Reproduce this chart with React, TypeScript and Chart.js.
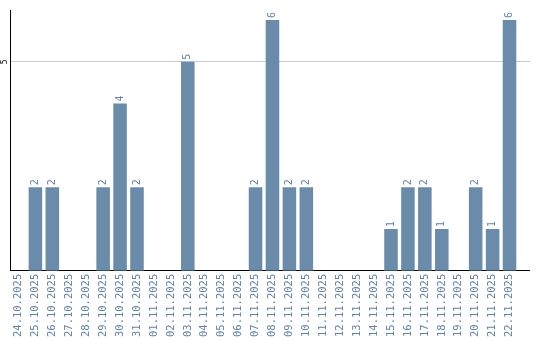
import React, { useEffect, useRef } from "react";
import { Chart, registerables } from "chart.js";

Chart.register(...registerables);

const categories = [
  "24.10.2025", "25.10.2025", "26.10.2025", "27.10.2025", "28.10.2025",
  "29.10.2025", "30.10.2025", "31.10.2025", "01.11.2025", "02.11.2025",
  "03.11.2025", "04.11.2025", "05.11.2025", "06.11.2025", "07.11.2025",
  "08.11.2025", "09.11.2025", "10.11.2025", "11.11.2025", "12.11.2025",
  "13.11.2025", "14.11.2025", "15.11.2025", "16.11.2025", "17.11.2025",
  "18.11.2025", "19.11.2025", "20.11.2025", "21.11.2025", "22.11.2025",
];
const counts = [0, 2, 2, 0, 0, 2, 4, 2, 0, 0, 5, 0, 0, 0, 2, 6, 2, 2, 0, 0, 0, 0, 1, 2, 2, 1, 0, 2, 1, 6];
const yTicks = [5];
const yMax = 6.24;

const BAR = "rgb(106,140,170)";
const LABEL = "rgb(98,130,165)";
const MONO = "'DejaVu Sans Mono', monospace";
const EXTEND = 12;

const align = (p: number) => Math.round(p - 0.5) + 0.5;

const labelPlugin = {
  id: "barLabels",
  afterDatasetsDraw(chart: any) {
    const ctx = chart.ctx;
    const meta = chart.getDatasetMeta(0);
    const ys = chart.scales.y;
    const xs = chart.scales.x;
    const area = chart.chartArea;
    ctx.save();
    // extend grid line and x axis line beyond the plot area
    ctx.lineWidth = 1;
    yTicks.forEach((t) => {
      const y = align(ys.getPixelForValue(t));
      ctx.strokeStyle = "#cccccc";
      ctx.beginPath();
      ctx.moveTo(area.right, y);
      ctx.lineTo(area.right + EXTEND, y);
      ctx.stroke();
    });
    const y0 = align(xs.top);
    ctx.strokeStyle = "#000";
    ctx.beginPath();
    ctx.moveTo(area.right - 1, y0);
    ctx.lineTo(area.right + EXTEND, y0);
    ctx.stroke();

    ctx.fillStyle = LABEL;
    ctx.font = `10px ${MONO}`;
    meta.data.forEach((el: any, i: number) => {
      const v = counts[i];
      if (!v) return;
      ctx.save();
      ctx.translate(el.x, el.y - 2);
      ctx.rotate(-Math.PI / 2);
      ctx.textAlign = "left";
      ctx.textBaseline = "middle";
      ctx.fillText(String(v), 0, 0);
      ctx.restore();
    });
    ctx.fillStyle = "#000";
    ctx.font = `8px ${MONO}`;
    yTicks.forEach((t) => {
      ctx.save();
      ctx.translate(5, ys.getPixelForValue(t));
      ctx.rotate(-Math.PI / 2);
      ctx.textAlign = "center";
      ctx.textBaseline = "middle";
      ctx.fillText(String(t), 0, 0);
      ctx.restore();
    });
    ctx.restore();
  },
};

export default function App() {
  const ref = useRef<HTMLCanvasElement>(null);
  useEffect(() => {
    const chart = new Chart(ref.current!, {
      type: "bar",
      data: {
        labels: categories,
        datasets: [
          {
            data: counts,
            backgroundColor: BAR,
            borderWidth: 0,
            barPercentage: 0.8,
            categoryPercentage: 1,
          },
        ],
      },
      options: {
        animation: false,
        responsive: false,
        maintainAspectRatio: false,
        layout: { padding: { left: 0, top: 10, right: 22, bottom: 0 } },
        plugins: { legend: { display: false }, tooltip: { enabled: false } },
        scales: {
          x: {
            grid: { display: false, drawTicks: false },
            border: { display: true, color: "#000", width: 1 },
            ticks: {
              color: LABEL,
              font: { family: MONO, size: 10.5 },
              minRotation: 90,
              maxRotation: 90,
              autoSkip: false,
              padding: 3,
            },
          },
          y: {
            min: 0,
            max: yMax,
            afterBuildTicks: (s: any) => {
              s.ticks = yTicks.map((v) => ({ value: v }));
            },
            afterFit: (s: any) => {
              s.width = 10;
            },
            grid: { color: "#cccccc", lineWidth: 1, drawTicks: false },
            border: { display: true, color: "#000", width: 1 },
            ticks: { display: false },
          },
        },
      },
      plugins: [labelPlugin],
    });
    return () => chart.destroy();
  }, []);
  return (
    <div style={{ position: "fixed", left: 0, top: 0, width: 540, height: 340 }}>
      <canvas ref={ref} width={540} height={340} style={{ width: 540, height: 340 }} />
    </div>
  );
}
